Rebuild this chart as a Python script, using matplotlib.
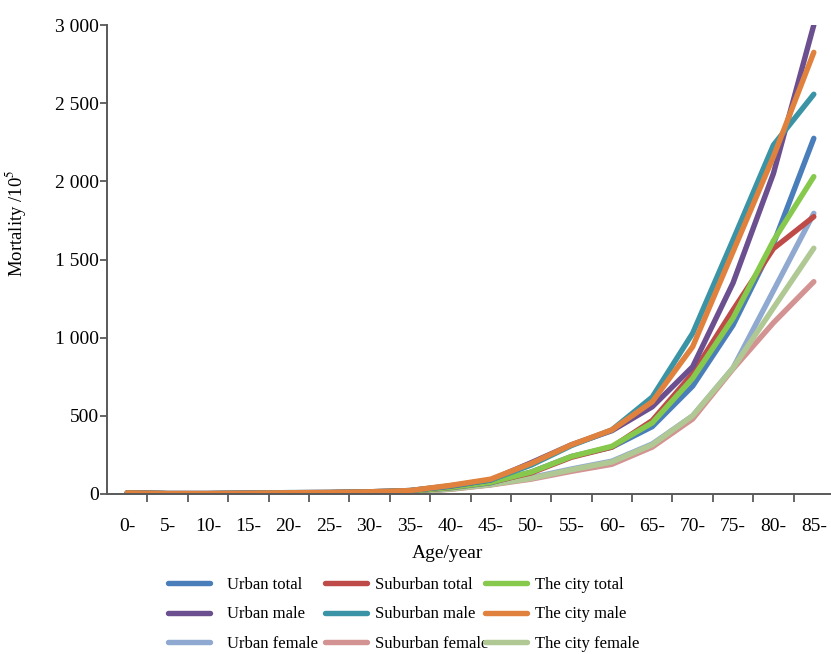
import matplotlib
matplotlib.use("Agg")
import matplotlib.pyplot as plt
from matplotlib.ticker import FixedLocator, FuncFormatter, MultipleLocator

ages = ['0-', '5-', '10-', '15-', '20-', '25-', '30-', '35-', '40-', '45-',
        '50-', '55-', '60-', '65-', '70-', '75-', '80-', '85-']

urban_total = [6, 2, 2, 4, 6, 8, 12, 18, 40, 72, 140, 240, 300, 431, 690, 1080, 1600, 2275]
urban_male = [7, 3, 3, 5, 8, 10, 14, 22, 50, 90, 200, 315, 405, 558, 814, 1350, 2050, 3000]
urban_female = [5, 2, 2, 3, 5, 6, 9, 14, 32, 60, 105, 160, 210, 320, 500, 806, 1300, 1795]
suburban_total = [6, 2, 2, 4, 7, 8, 12, 18, 42, 75, 135, 235, 300, 470, 770, 1177, 1570, 1774]
suburban_male = [7, 3, 3, 5, 9, 10, 14, 22, 52, 90, 185, 310, 410, 620, 1028, 1625, 2232, 2557]
suburban_female = [5, 2, 2, 3, 5, 5, 8, 13, 30, 58, 95, 145, 190, 300, 480, 800, 1095, 1358]
city_total = [6, 2, 2, 4, 6, 8, 12, 18, 42, 75, 140, 240, 305, 455, 740, 1125, 1620, 2030]
city_male = [7, 3, 3, 5, 8, 10, 14, 22, 55, 95, 195, 315, 410, 590, 942, 1550, 2158, 2825]
city_female = [5, 2, 2, 3, 5, 6, 9, 14, 32, 60, 100, 155, 205, 315, 500, 806, 1190, 1572]

series = [
    ('Urban total', urban_total, '#4a7ebb'),
    ('Urban male', urban_male, '#6b4f8f'),
    ('Urban female', urban_female, '#8fa9d0'),
    ('Suburban total', suburban_total, '#be4b48'),
    ('Suburban male', suburban_male, '#3a94a6'),
    ('Suburban female', suburban_female, '#d39392'),
    ('The city total', city_total, '#86c94c'),
    ('The city male', city_male, '#e0823d'),
    ('The city female', city_female, '#b0c994'),
]

plt.rcParams['font.family'] = ['Liberation Serif', 'DejaVu Serif']
plt.rcParams['mathtext.fontset'] = 'stix'

W, H = 831, 654
fig = plt.figure(figsize=(W / 100, H / 100), dpi=100)
left, right, top, bottom = 107, 834, 25, 494
ax = fig.add_axes([left / W, 1 - bottom / H, (right - left) / W, (bottom - top) / H])

x = list(range(len(ages)))
draw_order = [2, 5, 8, 0, 3, 6, 1, 4, 7]
handles = {}
for i in draw_order:
    name, vals, col = series[i]
    ln, = ax.plot(x, vals, color=col, lw=3.9, solid_capstyle='round',
                  solid_joinstyle='round', label=name)
    handles[i] = ln

ax.set_xlim(-0.5, len(ages) - 0.5)
ax.set_ylim(0, 3000)
ax.xaxis.set_major_locator(FixedLocator([i + 0.5 for i in range(len(ages))]))
ax.xaxis.set_minor_locator(FixedLocator(x))
ax.set_xticklabels([])
ax.set_xticklabels(ages, minor=True)
ax.tick_params(axis='x', which='major', length=6, width=1.3, color='#595959', direction='out')
ax.tick_params(axis='x', which='minor', length=0, labelsize=14, pad=17)
ax.yaxis.set_major_locator(MultipleLocator(500))
ax.yaxis.set_major_formatter(FuncFormatter(lambda v, p: f"{int(v):,}".replace(',', ' ')))
ax.tick_params(axis='y', length=5, width=1.3, color='#595959', labelsize=14, pad=1)

for s in ['top', 'right']:
    ax.spines[s].set_visible(False)
for s in ['left', 'bottom']:
    ax.spines[s].set_color('#595959')
    ax.spines[s].set_linewidth(1.4)

ax.set_xlabel('Age/year', fontsize=14)
ax.xaxis.set_label_coords((448 - left) / (right - left), (bottom - 545) / (bottom - top))
ax.set_ylabel('Mortality /10$^5$', fontsize=13.5)
ax.yaxis.set_label_coords((28 - left) / (right - left), (bottom - 223) / (bottom - top))

# three legend columns, as in the reference
col_specs = [([0, 1, 2], 168, 1.05), ([3, 4, 5], 325, 0.5), ([6, 7, 8], 485, 0.5)]
for idxs, xpx, pad in col_specs:
    lg = fig.legend(handles=[handles[i] for i in idxs], labels=[series[i][0] for i in idxs],
                    ncol=1, loc='upper left', bbox_to_anchor=(xpx / W, 1 - 577 / H),
                    frameon=False, fontsize=12, handlelength=2.5, handletextpad=pad,
                    labelspacing=0.8, borderpad=0, borderaxespad=0)

fig.savefig('out.png', dpi=100)
